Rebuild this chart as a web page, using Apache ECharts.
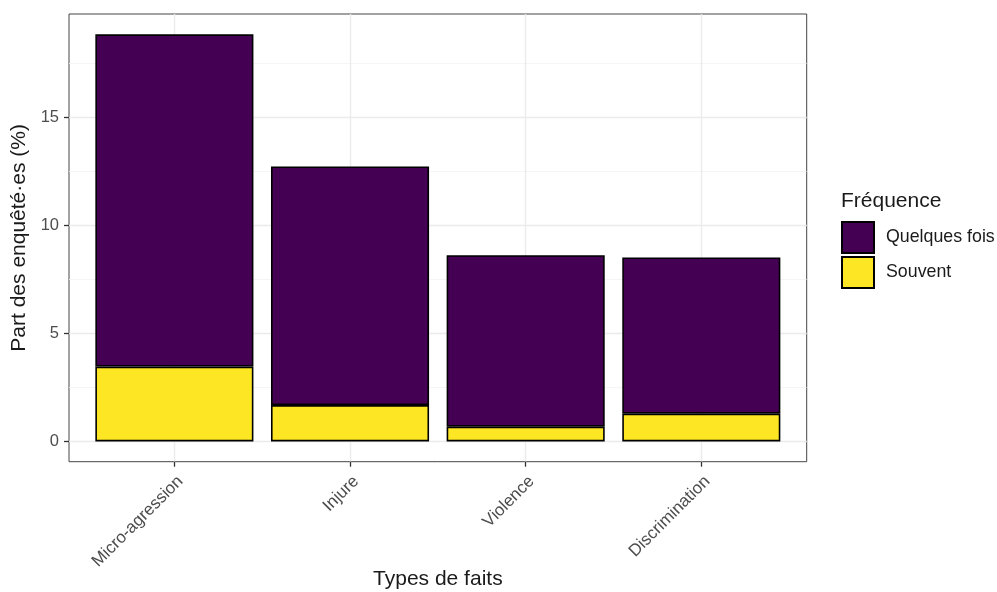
<!DOCTYPE html>
<html><head><meta charset="utf-8">
<script src="https://cdn.jsdelivr.net/npm/echarts@6/dist/echarts.min.js"></script>
<style>html,body{margin:0;padding:0;background:#fff}#c{width:997px;height:592px}</style>
</head><body><div id="c"></div>
<script>
const categories = ['Micro-agression', 'Injure', 'Violence', 'Discrimination'];
const souvent = [3.46, 1.68, 0.68, 1.28];
const quelquesFois = [15.37, 11.04, 7.93, 7.23];
const yTicks = [0, 5, 10, 15];
const yMinorTicks = [2.5, 7.5, 12.5, 17.5];
const seriesNames = ['Quelques fois', 'Souvent'];

const FONT = 'Liberation Sans';
const chart = echarts.init(document.getElementById('c'), null, {renderer: 'canvas'});
const xPos = categories.map((c, i) => i + 1);
const yMin = -0.94, yMax = 19.77;
// panel geometry
const L = 69, R = 190.3, T = 14, B = 130.3;
const band = (997 - L - R) / (categories.length + 0.2);
const pad = band * 0.1;

chart.setOption({
  animation: false,
  textStyle: {fontFamily: FONT},
  grid: [
    {left: L, top: T, right: R, bottom: B, show: true, borderColor: '#444', borderWidth: 1, backgroundColor: '#fff', outerBoundsMode: 'none', containLabel: false},
    {left: L + pad, top: T, right: R + pad, bottom: B, show: false, outerBoundsMode: 'none', containLabel: false}
  ],
  legend: {
    data: seriesNames,
    orient: 'vertical', left: 841, top: 221, padding: 0,
    itemWidth: 32, itemHeight: 31, itemGap: 2,
    icon: 'rect',
    textStyle: {fontSize: 17.8, color: '#1a1a1a', fontFamily: FONT, padding: [0,0,0,7]},
    selectedMode: false
  },
  graphic: [
    {type: 'text', left: 841, top: 191, style: {text: 'Fréquence', font: '21px "Liberation Sans"', fill: '#1a1a1a'}}
  ],
  xAxis: [{
    type: 'value', min: 0.4, max: 4.6, gridIndex: 0, position: 'bottom',
    name: 'Types de faits', nameLocation: 'middle', nameGap: 107, nameMoveOverlap: false,
    nameTextStyle: {fontSize: 21, color: '#1a1a1a'},
    axisLine: {show: false, onZero: false},
    axisTick: {show: true, customValues: xPos, length: 5, lineStyle: {color: '#333', width: 1.3}},
    axisLabel: {customValues: xPos, rotate: 45, fontSize: 17, color: '#4d4d4d', margin: 11, verticalAlign: 'top',
      formatter: v => categories[Math.round(v) - 1] || ''},
    splitLine: {show: true, lineStyle: {color: '#ebebeb', width: 1.4}}
  }, {
    type: 'category', data: categories, gridIndex: 1, show: false
  }],
  yAxis: [{
    type: 'value', min: yMin, max: yMax, gridIndex: 0, position: 'left',
    name: 'Part des enquêté·es (%)', nameLocation: 'middle', nameGap: 37,
    nameTextStyle: {fontSize: 21, color: '#1a1a1a'},
    axisLine: {show: false, onZero: false},
    axisTick: {show: true, customValues: yTicks, length: 5, lineStyle: {color: '#333', width: 1.3}},
    axisLabel: {customValues: yTicks, fontSize: 16.5, color: '#4d4d4d', margin: 10},
    splitLine: {show: true, lineStyle: {color: '#ebebeb', width: 1.4}}
  }, {
    type: 'value', min: yMin, max: yMax, gridIndex: 0, position: 'left',
    axisLine: {show: false, onZero: false},
    axisTick: {show: false, customValues: yMinorTicks},
    axisLabel: {show: false, customValues: yMinorTicks},
    splitLine: {show: true, lineStyle: {color: '#f2f2f2', width: 0.8}}
  }, {
    type: 'value', min: yMin, max: yMax, gridIndex: 1, show: false, splitLine: {show: false}
  }],
  series: [
    {name: 'Souvent', type: 'bar', stack: 'tot', barWidth: '90%', xAxisIndex: 1, yAxisIndex: 2,
     itemStyle: {color: '#FDE725', borderColor: '#000', borderWidth: 1.6},
     data: souvent},
    {name: 'Quelques fois', type: 'bar', stack: 'tot', barWidth: '90%', xAxisIndex: 1, yAxisIndex: 2,
     itemStyle: {color: '#440154', borderColor: '#000', borderWidth: 1.6},
     data: quelquesFois}
  ]
});
</script></body></html>
